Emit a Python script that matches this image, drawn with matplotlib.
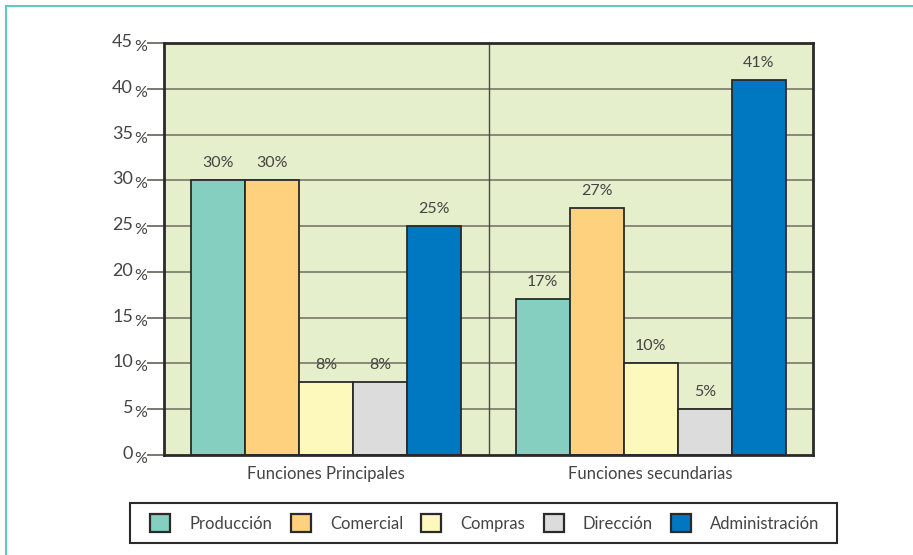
import matplotlib
matplotlib.use("Agg")
import matplotlib.pyplot as plt
from matplotlib.patches import Patch, Rectangle
from matplotlib.lines import Line2D
import numpy as np

plt.rcParams['font.family'] = ['Lato', 'DejaVu Sans']
plt.rcParams['font.weight'] = 'normal'

groups = ["Funciones Principales", "Funciones secundarias"]
series = ["Producción", "Comercial", "Compras", "Dirección", "Administración"]
values = {
    "Producción": [30, 17],
    "Comercial": [30, 27],
    "Compras": [8, 10],
    "Dirección": [8, 5],
    "Administración": [25, 41],
}
labels = {
    "Producción": ["30%", "17%"],
    "Comercial": ["30%", "27%"],
    "Compras": ["8%", "10%"],
    "Dirección": ["8%", "5%"],
    "Administración": ["25%", "41%"],
}
colors = ["#84cfc0", "#fdd17e", "#fdf8bb", "#dcdcdc", "#0078c1"]
yticks = [0, 5, 10, 15, 20, 25, 30, 35, 40, 45]

TEXT = "#444444"
EDGE = "#2a2a2a"

fig = plt.figure(figsize=(9.13, 5.55), dpi=100)
fig.patch.set_facecolor("white")
# teal frame lines (left and top)
fig.add_artist(Line2D([5.5/913, 5.5/913], [0, 1-6/555], color="#5ccfb8", lw=1.5))
fig.add_artist(Line2D([5.5/913, 1], [1-6/555, 1-6/555], color="#5ccfb8", lw=1.5))

ax = fig.add_axes([164/913, 1-455/555, (813-164)/913, (455-43)/555])
ax.set_facecolor("#e5efcc")
ax.set_xlim(0, 2)
ax.set_ylim(0, 45)

bw = 54/324.5
centers = np.array([0.5, 1.5])
for i, (s, c) in enumerate(zip(series, colors)):
    x = centers + (i - 2) * bw
    ax.bar(x, values[s], width=bw, color=c, edgecolor=EDGE, linewidth=1.3, zorder=3)
    for xx, v, lab in zip(x, values[s], labels[s]):
        ax.annotate(lab, (xx, v), xytext=(0, 10), textcoords="offset pixels",
                    ha="center", va="bottom", fontsize=11.5, color=TEXT)

for yv in yticks[1:-1]:
    ax.axhline(yv, color="#6e6e60", lw=1.1, zorder=1)
ax.axvline(1, color="#4a4a40", lw=1.0, zorder=1)

for sp in ax.spines.values():
    sp.set_color(EDGE)
    sp.set_linewidth(2)
    sp.set_zorder(5)

ax.set_yticks(yticks)
ax.set_yticklabels([])
ax.tick_params(axis="y", length=12, width=1.1, color="#555548", direction="out", pad=2)
ax.set_xticks([])
for yv in yticks:
    ax.annotate(str(yv), (0, yv), xytext=(-31, 1), textcoords="offset pixels",
                xycoords=("axes fraction", "data"), ha="right", va="center",
                fontsize=13, color=TEXT, annotation_clip=False)
    ax.annotate("%", (0, yv), xytext=(-30, -4), textcoords="offset pixels",
                xycoords=("axes fraction", "data"), ha="left", va="center",
                fontsize=11.5, color=TEXT, annotation_clip=False)

for cx, g in zip(centers, groups):
    ax.annotate(g, (cx, 0), xytext=(0, -19), textcoords="offset pixels",
                xycoords=("data", "axes fraction"), ha="center", va="center",
                fontsize=12, color=TEXT, annotation_clip=False)

# legend frame
fig.add_artist(Rectangle((130/913, 1-543/555), 707/913, 40/555, transform=fig.transFigure,
                         fill=False, edgecolor=EDGE, linewidth=1.5))
handles = [Patch(facecolor=c, edgecolor=EDGE, linewidth=1.6) for c in colors]
leg = fig.legend(handles, series, ncol=5,
                 bbox_to_anchor=(485/913, 1-523/555),
                 loc="center", fontsize=12, frameon=False,
                 handlelength=1.2, handleheight=1.2, handletextpad=1.15,
                 columnspacing=1.1, borderpad=0, borderaxespad=0)
for t in leg.get_texts():
    t.set_color(TEXT)

fig.savefig("out.png", dpi=100)
